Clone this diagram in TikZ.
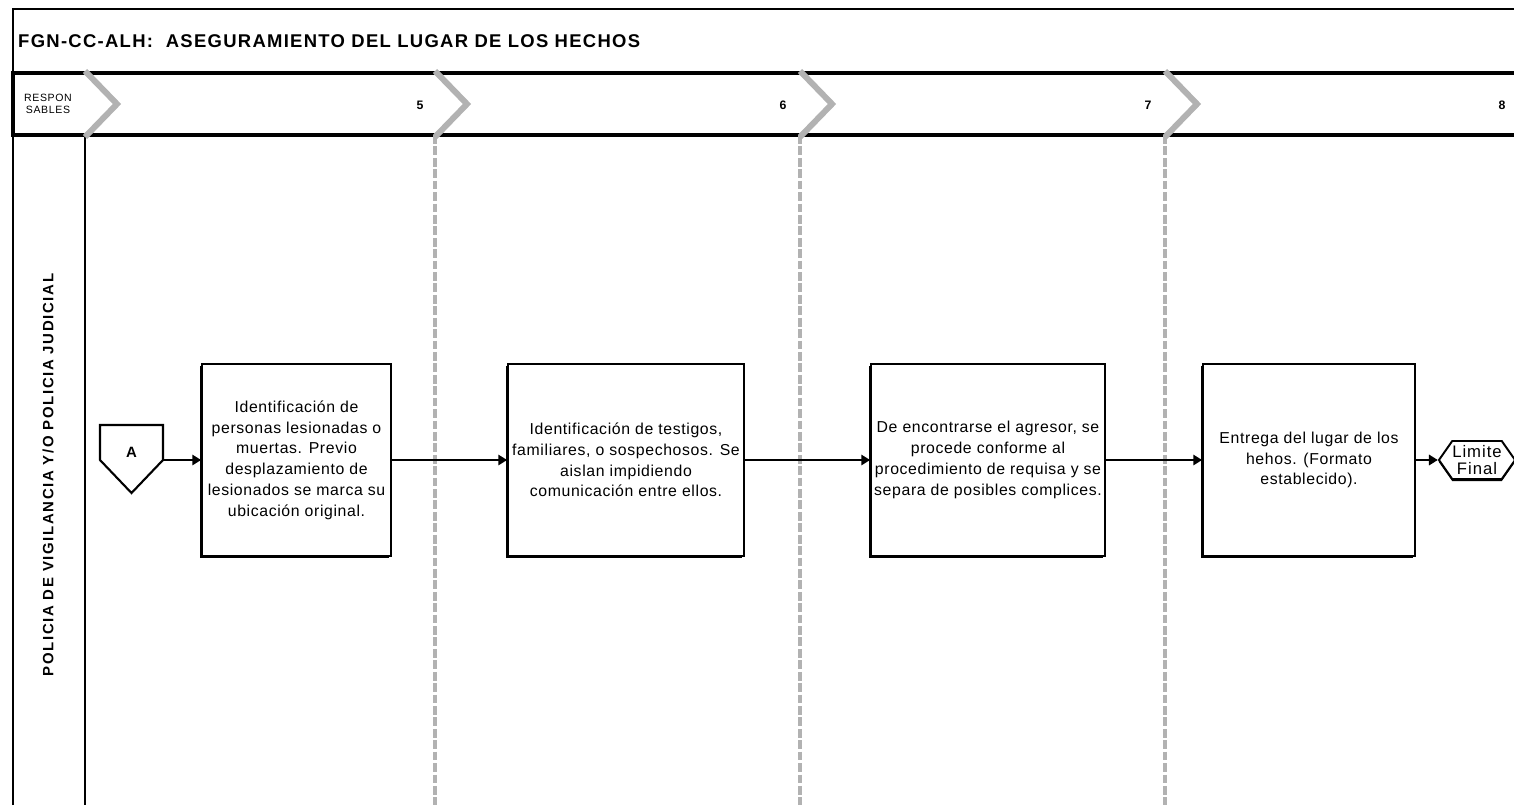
\documentclass[tikz,border=0pt]{standalone}
\usepackage{fontspec}
\setmainfont{Liberation Sans}
\usetikzlibrary{arrows.meta,shapes.symbols,shadows}

\tikzset{
  proc/.style={draw, line width=1.1pt, fill=white, align=center,
    font=\fontsize{9}{11.8}\selectfont\addfontfeatures{LetterSpace=4}, minimum height=3.84cm, inner sep=1pt,
    drop shadow={shadow xshift=-1.3pt, shadow yshift=-1.3pt, opacity=1, fill=black}},
  flow/.style={line width=0.9pt, -{Triangle[length=5pt,width=6pt]}},
  stage/.style={line width=3.4pt, black!30},
  stageline/.style={line width=2.8pt, black!30, dash pattern=on 5pt off 1.5pt},
  num/.style={font=\bfseries\fontsize{7}{8}\selectfont},
}

\begin{document}
\begin{tikzpicture}[x=0.02cm, y=-0.02cm]
    \useasboundingbox (0,0) rectangle (1514,805);

    % Frame and title
    \draw[line width=1.2pt] (13,805) -- (13,9) -- (1514,9);
    \node[anchor=west, font=\bfseries\fontsize{10.5}{12}\selectfont\addfontfeatures{LetterSpace=7}] (title) at (12,41)
        {FGN-CC-ALH:\ \ ASEGURAMIENTO DEL LUGAR DE LOS HECHOS};

    % Header band
    \draw[line width=2.4pt] (1514,73) -- (13,73) -- (13,135) -- (1514,135);
    \node[align=center, font=\fontsize{6}{6.5}\selectfont\addfontfeatures{LetterSpace=6}] (resp) at (48,104) {RESPON\\SABLES};
    \foreach \x/\n in {420/5, 783/6, 1148/7, 1502/8}
        \node[num] (n\n) at (\x,105) {\n};

    % Lane
    \draw[line width=1.2pt] (85,135) -- (85,805);
    \node[rotate=90, font=\bfseries\fontsize{8.5}{9}\selectfont\addfontfeatures{LetterSpace=11}] (lane) at (48,475)
        {POLICIA DE VIGILANCIA Y/O POLICIA JUDICIAL};

    % Stage separators
    \foreach \x in {435,800,1165}
        \draw[stageline] (\x,135) -- (\x,805);
    \foreach \x in {85,435,800,1165}
        \draw[stage] (\x,71) -- (\x+32,104) -- (\x,137);

    % Off-page connector
    \draw[line width=1.2pt, fill=white] (100,425) -- (163,425) -- (163,460) -- (131.5,493) -- (100,460) -- cycle;
    \node[font=\bfseries\fontsize{8.5}{9}\selectfont] (A) at (131.5,452) {A};
    \coordinate (Aout) at (163,460);

    % Activities
    \node[proc, minimum width=3.78cm] (p5) at (296.5,460)
        {Identificación de\\personas lesionadas o\\muertas. Previo\\desplazamiento de\\lesionados se marca su\\ubicación original.};
    \node[proc, minimum width=4.72cm] (p6) at (626,460)
        {Identificación de testigos,\\familiares, o sospechosos. Se\\aislan impidiendo\\comunicación entre ellos.};
    \node[proc, minimum width=4.68cm] (p7) at (988,460)
        {De encontrarse el agresor, se\\procede conforme al\\procedimiento de requisa y se\\separa de posibles complices.};
    \node[proc, minimum width=4.24cm] (p8) at (1309,460)
        {Entrega del lugar de los\\hehos. (Formato\\establecido).};

    % End
    \node[draw, line width=1.1pt, fill=white, shape=signal, signal to=east and west,
          signal pointer angle=110, minimum width=1.5cm, minimum height=0.76cm, inner sep=0pt,
          align=center, font=\fontsize{9.5}{10}\selectfont\addfontfeatures{LetterSpace=6},
          drop shadow={shadow xshift=0pt, shadow yshift=-1.2pt, opacity=1, fill=black}]
        (fin) at (1477,460) {Limite\\Final};

    % Flow
    \draw[flow] (Aout) -- (p5);
    \draw[flow] (p5) -- (p6);
    \draw[flow] (p6) -- (p7);
    \draw[flow] (p7) -- (p8);
    \draw[flow] (p8) -- (fin);
\end{tikzpicture}
\end{document}
